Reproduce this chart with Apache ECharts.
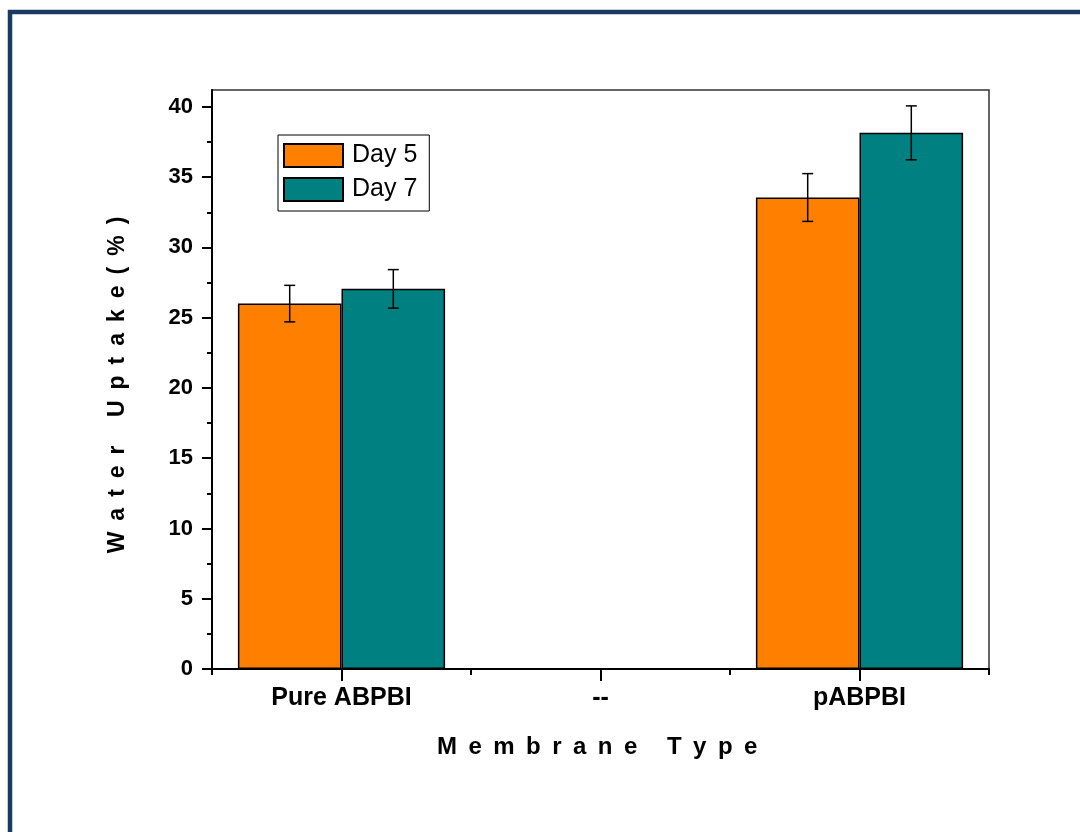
<!DOCTYPE html>
<html>
<head>
<meta charset="utf-8">
<script src="https://cdn.jsdelivr.net/npm/echarts@6/dist/echarts.min.js"></script>
<style>
  html, body { margin: 0; padding: 0; background: #fff; }
  #main { width: 1080px; height: 832px; }
</style>
</head>
<body>
<div id="main"></div>
<script>
// membrane types on the x axis
var categories = ['Pure ABPBI', '--', 'pABPBI'];
// water uptake (%) per day, with error bar half-widths
var day5 = [26.0, null, 33.55];
var day7 = [27.05, null, 38.15];
var day5Err = [1.3, null, 1.7];
var day7Err = [1.37, null, 1.92];
var yTicks = [0, 5, 10, 15, 20, 25, 30, 35, 40];
var yMinorTicks = [2.5, 7.5, 12.5, 17.5, 22.5, 27.5, 32.5, 37.5];

var font = '"Liberation Sans", Arial, sans-serif';

// spread letters out, like the original axis titles
var GAP = ' \u2009';
function spaced(s) {
  return s.split(' ').map(function (w) { return w.split('').join(GAP); }).join(GAP + ' ' + GAP);
}

function errData(vals, errs) {
  var out = [];
  for (var i = 0; i < vals.length; i++) {
    if (vals[i] == null) continue;
    out.push([i, vals[i] - errs[i], vals[i] + errs[i]]);
  }
  return out;
}

function errRender(side) {
  return function (params, api) {
    var band = api.size([1, 0])[0];
    var lo = api.coord([api.value(0), api.value(1)]);
    var hi = api.coord([api.value(0), api.value(2)]);
    var x = lo[0] + side * band * 0.2;
    var cap = 5.5;
    var st = { stroke: '#000', lineWidth: 1.5 };
    return {
      type: 'group',
      children: [
        { type: 'line', shape: { x1: x, y1: lo[1], x2: x, y2: hi[1] }, style: st },
        { type: 'line', shape: { x1: x - cap, y1: lo[1], x2: x + cap, y2: lo[1] }, style: st },
        { type: 'line', shape: { x1: x - cap, y1: hi[1], x2: x + cap, y2: hi[1] }, style: st }
      ]
    };
  };
}

var myChart = echarts.init(document.getElementById('main'));
var option = {
  animation: false,
  backgroundColor: '#fff',
  graphic: [{
    type: 'rect',
    shape: { x: 10, y: 12, width: 1200, height: 1000 },
    style: { fill: 'none', stroke: '#1b3a62', lineWidth: 4.5 },
    silent: true
  }],
  grid: {
    left: 212, right: 91, top: 90, bottom: 163,
    show: true, borderColor: '#333', borderWidth: 1.5, backgroundColor: 'transparent'
  },
  legend: {
    orient: 'vertical',
    left: 278, top: 135,
    borderColor: '#000', borderWidth: 1,
    padding: [8, 12, 9, 5],
    itemGap: 9,
    itemWidth: 59, itemHeight: 23,
    icon: 'rect',
    textStyle: { fontSize: 25, fontFamily: font, color: '#000', padding: [0, 0, 0, 4] },
    data: ['Day 5', 'Day 7']
  },
  xAxis: [{
    type: 'category',
    data: categories,
    boundaryGap: true,
    name: spaced('Membrane Type') + ' ',
    nameLocation: 'middle',
    nameGap: 66,
    nameTextStyle: { fontSize: 24, fontWeight: 'bold', fontFamily: font, color: '#000' },
    axisLine: { lineStyle: { color: '#000', width: 2 } },
    axisTick: { show: true, interval: 0, length: 6, lineStyle: { color: '#000', width: 2 } },
    axisLabel: { interval: 0, margin: 17, fontSize: 25, fontWeight: 'bold', fontFamily: font, color: '#000' },
    splitLine: { show: false }
  }, {
    type: 'category',
    data: categories,
    position: 'bottom',
    axisLine: { show: false },
    axisTick: { show: true, alignWithLabel: true, interval: 0, length: 12, lineStyle: { color: '#000', width: 2 } },
    axisLabel: { show: false },
    splitLine: { show: false }
  }],
  yAxis: [{
    type: 'value',
    min: 0, max: 41.2,
    name: spaced('Water Uptake(%)') + GAP,
    nameLocation: 'middle',
    nameGap: 83,
    nameTextStyle: { fontSize: 23, fontWeight: 'bold', fontFamily: font, color: '#000' },
    axisLine: { show: true, lineStyle: { color: '#000', width: 2 } },
    axisTick: { show: true, length: 10, customValues: yTicks, lineStyle: { color: '#000', width: 2 } },
    axisLabel: { customValues: yTicks, margin: 19, fontSize: 22, fontWeight: 'bold', fontFamily: font, color: '#000' },
    splitLine: { show: false }
  }, {
    type: 'value',
    min: 0, max: 41.2,
    position: 'left',
    axisLine: { show: false },
    axisTick: { show: true, length: 5, customValues: yMinorTicks, lineStyle: { color: '#000', width: 2 } },
    axisLabel: { show: false },
    splitLine: { show: false }
  }],
  series: [{
    name: 'Day 5',
    type: 'bar',
    data: day5,
    barWidth: '40%',
    barGap: '0%',
    itemStyle: { color: '#ff8000', borderColor: '#000', borderWidth: 1.5 }
  }, {
    name: 'Day 7',
    type: 'bar',
    data: day7,
    barWidth: '40%',
    barGap: '0%',
    itemStyle: { color: '#008080', borderColor: '#000', borderWidth: 1.5 }
  }, {
    type: 'custom',
    renderItem: errRender(-1),
    data: errData(day5, day5Err),
    z: 5,
    silent: true
  }, {
    type: 'custom',
    renderItem: errRender(1),
    data: errData(day7, day7Err),
    z: 5,
    silent: true
  }]
};
myChart.setOption(option);
window.onresize = myChart.resize;
</script>
</body>
</html>
